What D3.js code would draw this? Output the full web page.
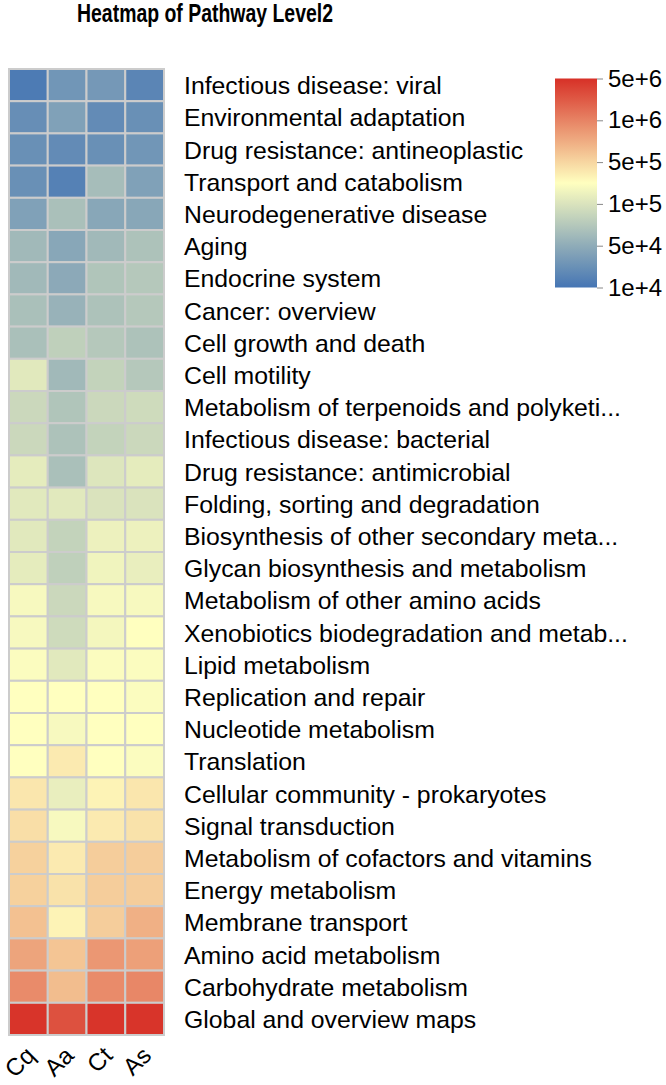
<!DOCTYPE html>
<html>
<head>
<meta charset="utf-8">
<script src="https://cdn.jsdelivr.net/npm/d3@7"></script>
<style>
  html, body { margin: 0; padding: 0; background: #ffffff; }
  svg { display: block; }
  text { font-family: "Liberation Sans", Arial, Helvetica, sans-serif; }
</style>
</head>
<body>
<svg id="chart" width="666" height="1085"></svg>
<script>
// ---- data ----
const pathways = [
  "Infectious disease: viral",
  "Environmental adaptation",
  "Drug resistance: antineoplastic",
  "Transport and catabolism",
  "Neurodegenerative disease",
  "Aging",
  "Endocrine system",
  "Cancer: overview",
  "Cell growth and death",
  "Cell motility",
  "Metabolism of terpenoids and polyketi...",
  "Infectious disease: bacterial",
  "Drug resistance: antimicrobial",
  "Folding, sorting and degradation",
  "Biosynthesis of other secondary meta...",
  "Glycan biosynthesis and metabolism",
  "Metabolism of other amino acids",
  "Xenobiotics biodegradation and metab...",
  "Lipid metabolism",
  "Replication and repair",
  "Nucleotide metabolism",
  "Translation",
  "Cellular community - prokaryotes",
  "Signal transduction",
  "Metabolism of cofactors and vitamins",
  "Energy metabolism",
  "Membrane transport",
  "Amino acid metabolism",
  "Carbohydrate metabolism",
  "Global and overview maps"
];
const samples = ["Cq", "Aa", "Ct", "As"];

const valuesCq = [12000, 21000, 22000, 22000, 36000, 59000, 59000, 64000, 64000, 118000,
  87000, 87000, 127000, 118000, 118000, 127000, 190000, 190000, 206000, 224000,
  224000, 224000, 362000, 426000, 518000, 518000, 595000, 758000, 933000, 4620000];
const valuesAa = [26000, 36000, 19000, 14000, 64000, 43000, 46000, 54000, 78000, 59000,
  68000, 66000, 64000, 118000, 81000, 78000, 87000, 90000, 118000, 224000,
  190000, 334000, 138000, 190000, 334000, 393000, 285000, 574000, 616000, 2630000];
const valuesCt = [28000, 19000, 22000, 62000, 43000, 59000, 68000, 66000, 71000, 81000,
  87000, 81000, 108000, 100000, 150000, 162000, 190000, 176000, 206000, 224000,
  224000, 224000, 285000, 334000, 536000, 536000, 536000, 841000, 933000, 4620000];
const valuesAs = [16000, 22000, 26000, 36000, 43000, 66000, 71000, 71000, 66000, 71000,
  90000, 87000, 127000, 100000, 150000, 138000, 190000, 224000, 206000, 206000,
  224000, 206000, 362000, 393000, 536000, 536000, 683000, 785000, 966000, 4620000];

const legendTickValues = [5e6, 1e6, 5e5, 1e5, 5e4, 1e4];
const legendTickLabels = ["5e+6", "1e+6", "5e+5", "1e+5", "5e+4", "1e+4"];
const paletteColors = ["#4575B4", "#FFFFBF", "#D73027"];

// ---- layout ----
const svg = d3.select("#chart");
const hm = { x: 9, y: 69, w: 155, h: 966 };
const labelX = 184;
const FONT = 24.8;

const seriesBySample = { Cq: valuesCq, Aa: valuesAa, Ct: valuesCt, As: valuesAs };
const cells = [];
pathways.forEach((p, i) => {
  samples.forEach(s => cells.push({ pathway: p, sample: s, value: seriesBySample[s][i] }));
});

const x = d3.scaleBand().domain(samples).range([hm.x, hm.x + hm.w]).padding(0);
const y = d3.scaleBand().domain(pathways).range([hm.y, hm.y + hm.h]).padding(0);

// value -> position on the legend scale (legend breaks are evenly spaced)
const sortedTicks = legendTickValues.slice().sort((a, b) => a - b);
const pos = d3.scaleLinear()
  .domain(sortedTicks.map(v => Math.log10(v)))
  .range(sortedTicks.map((v, i) => i / (sortedTicks.length - 1)))
  .clamp(true);
const ramp = d3.scaleLinear().domain([0, 0.5, 1]).range(paletteColors)
  .interpolate(d3.interpolateRgb);
const color = v => ramp(pos(Math.log10(v)));

// ---- title ----
svg.append("text")
  .attr("x", 77).attr("y", 22)
  .attr("font-size", 25).attr("font-weight", "bold")
  .attr("textLength", 256).attr("lengthAdjust", "spacingAndGlyphs")
  .attr("fill", "#000")
  .text("Heatmap of Pathway Level2");

// ---- cells ----
svg.append("g").selectAll("rect").data(cells).join("rect")
  .attr("x", d => x(d.sample))
  .attr("y", d => y(d.pathway))
  .attr("width", x.bandwidth())
  .attr("height", y.bandwidth())
  .attr("fill", d => color(d.value))
  .attr("stroke", "#cccccc")
  .attr("stroke-width", 2);

// ---- row labels ----
svg.append("g").selectAll("text").data(pathways).join("text")
  .attr("x", labelX)
  .attr("y", d => y(d) + y.bandwidth() / 2 + 9)
  .attr("font-size", FONT)
  .attr("fill", "#000")
  .text(d => d);

// ---- column labels ----
svg.append("g").selectAll("text").data(samples).join("text")
  .attr("transform", d => `translate(${x(d) + x.bandwidth() / 2 + 8},${hm.y + hm.h + 22}) rotate(-45)`)
  .attr("text-anchor", "end")
  .attr("font-size", 24)
  .attr("fill", "#000")
  .text(d => d);

// ---- legend ----
const lg = { x: 555, y0: 78.5, y1: 287.5, w: 42 };
const legendY = d3.scalePoint().domain(legendTickLabels).range([lg.y0, lg.y1]);
const defs = svg.append("defs");
const grad = defs.append("linearGradient").attr("id", "lgGrad")
  .attr("x1", 0).attr("y1", 1).attr("x2", 0).attr("y2", 0);
d3.range(0, 1.0001, 0.05).forEach(t => {
  grad.append("stop").attr("offset", t).attr("stop-color", ramp(t));
});
svg.append("rect")
  .attr("x", lg.x).attr("y", lg.y0)
  .attr("width", lg.w).attr("height", lg.y1 - lg.y0)
  .attr("fill", "url(#lgGrad)");

const lAxis = d3.axisRight(legendY).tickSize(6).tickPadding(5);
const axG = svg.append("g")
  .attr("transform", `translate(${lg.x + lg.w},0)`)
  .call(lAxis);
axG.select(".domain").remove();
axG.selectAll(".tick line").attr("stroke", "#888888");
axG.selectAll(".tick text")
  .attr("font-size", 24)
  .attr("font-family", '"Liberation Sans", Arial, sans-serif')
  .attr("fill", "#000");
</script>
</body>
</html>
